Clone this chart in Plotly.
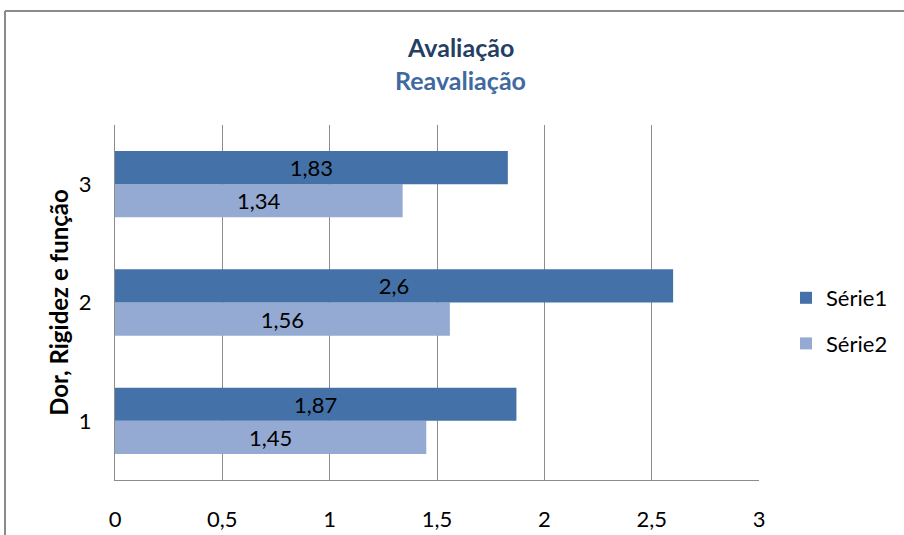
import plotly.graph_objects as go

categories = ["1", "2", "3"]
serie1 = [1.87, 2.6, 1.83]
serie2 = [1.45, 1.56, 1.34]
serie1_labels = ["1,87", "2,6", "1,83"]
serie2_labels = ["1,45", "1,56", "1,34"]
x_ticks = [0, 0.5, 1, 1.5, 2, 2.5, 3]
x_tick_labels = ["0", "0,5", "1", "1,5", "2", "2,5", "3"]

FONT = "Lato, Open Sans, sans-serif"
C1 = "#4472A8"
C2 = "#95AAD3"
FS = 22

fig = go.Figure()
fig.add_trace(go.Bar(
    y=categories, x=serie2, orientation="h", name="Série2",
    marker=dict(color=C2, line=dict(width=0)),
    text=serie2_labels, textposition="inside", insidetextanchor="middle",
    textfont=dict(color="black", size=FS, family=FONT), constraintext="none",
    legendrank=2, legendgroup="g2", hoverinfo="skip",
))
fig.add_trace(go.Bar(
    y=categories, x=serie1, orientation="h", name="Série1",
    marker=dict(color=C1, line=dict(width=0)),
    text=serie1_labels, textposition="inside", insidetextanchor="middle",
    textfont=dict(color="black", size=FS, family=FONT), constraintext="none",
    legendrank=1, legendgroup="g1", hoverinfo="skip",
))

L, R, T, B = 115, 145, 125, 55
W, H = 904, 535
pw, ph = W - L - R, H - T - B

fig.update_layout(
    width=W, height=H,
    margin=dict(l=L, r=R, t=T, b=B, autoexpand=False),
    paper_bgcolor="white", plot_bgcolor="white",
    barmode="group", bargap=0.44, bargroupgap=0,
    font=dict(family=FONT, size=FS, color="black"),
    showlegend=True,
    legend=dict(
        x=(786 - L) / pw, y=(480 - 321) / ph, xanchor="left", yanchor="middle",
        traceorder="grouped", tracegroupgap=14,
        font=dict(size=FS, family=FONT), bgcolor="rgba(0,0,0,0)",
    ),
    xaxis=dict(
        range=[0, 3], tickvals=x_ticks, ticktext=x_tick_labels,
        showgrid=True, gridcolor="#8c8c8c", gridwidth=1,
        showline=True, linecolor="#8c8c8c", linewidth=1,
        ticks="outside", ticklen=20, tickcolor="rgba(0,0,0,0)",
        zeroline=False, fixedrange=True,
    ),
    yaxis=dict(
        categoryorder="array", categoryarray=categories,
        showgrid=False, showline=True, linecolor="#8c8c8c", linewidth=1,
        ticks="outside", ticklen=18, tickcolor="rgba(0,0,0,0)",
        title=dict(text="<b>Dor, Rigidez e função</b>", standoff=3,
                   font=dict(size=24, family=FONT)),
        fixedrange=True,
    ),
    annotations=[
        dict(text="<b>Avaliação</b>", x=(460 - L) / pw, y=(480 - 47) / ph,
             xref="paper", yref="paper", xanchor="center", yanchor="middle",
             showarrow=False, font=dict(size=25, color="#243F62", family=FONT)),
        dict(text="<b>Reavaliação</b>", x=(460 - L) / pw, y=(480 - 80) / ph,
             xref="paper", yref="paper", xanchor="center", yanchor="middle",
             showarrow=False, font=dict(size=25, color="#4069A0", family=FONT)),
    ],
    shapes=[
        dict(type="line", xref="paper", yref="paper",
             x0=(5 - L) / pw, x1=(910 - L) / pw, y0=(480 - 11) / ph, y1=(480 - 11) / ph,
             line=dict(color="#8a8a8a", width=2)),
        dict(type="line", xref="paper", yref="paper",
             x0=(5 - L) / pw, x1=(5 - L) / pw, y0=(480 - 11) / ph, y1=(480 - 545) / ph,
             line=dict(color="#8a8a8a", width=2)),
    ],
)

fig.write_html("out.html")
